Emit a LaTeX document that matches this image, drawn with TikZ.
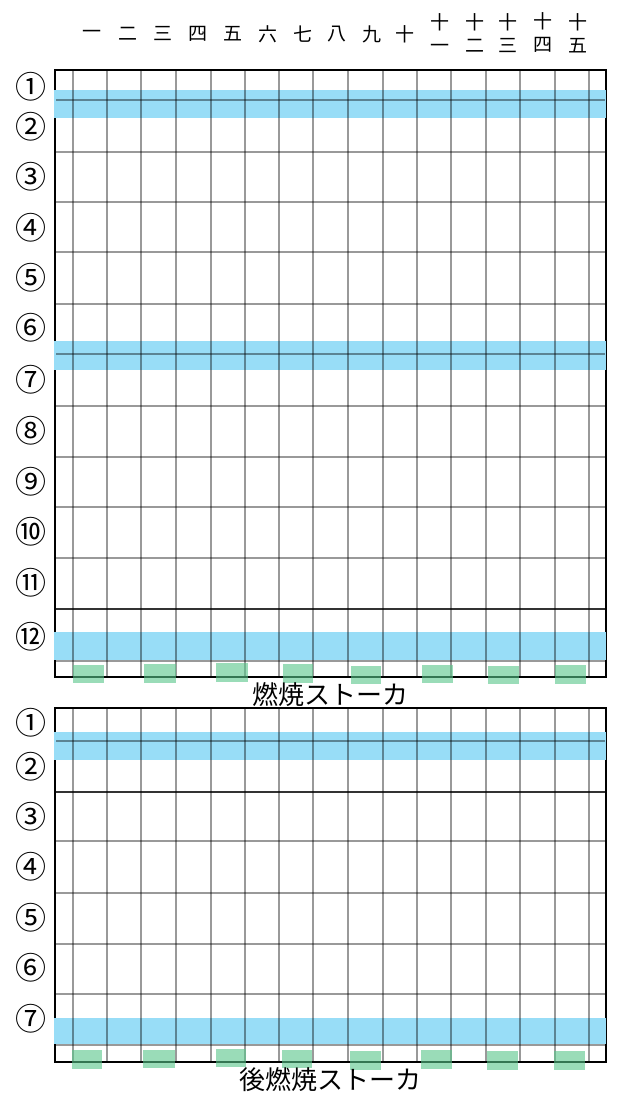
\documentclass[tikz,border=0pt]{standalone}
\usepackage{fontspec}
\newfontfamily\cjk{Noto Sans CJK JP}
\definecolor{bandblue}{RGB}{152,221,247}
\definecolor{grategreen}{RGB}{88,198,138}
\begin{document}
\begin{tikzpicture}[x=1pt,y=-1pt,
  gridline/.style={line width=2pt, black, opacity=0.4},
  heavyline/.style={line width=2pt, black, opacity=0.8},
  frame/.style={line width=2.2pt, black},
  band/.style={fill=bandblue, draw=none},
  grate/.style={fill=grategreen, fill opacity=0.6, draw=none},
  rowlab/.style={font=\cjk\fontsize{31}{31}\selectfont, inner sep=0pt},
  collab/.style={font=\cjk\fontsize{19}{23}\selectfont, inner sep=0pt, align=center},
  caption/.style={font=\cjk\fontsize{26}{26}\selectfont, inner sep=0pt}]
\useasboundingbox[fill=white] (0,0) rectangle (619,1103);

% ---- frames
\draw[frame] (55,70) rectangle (606,677);
\draw[frame] (55,708) rectangle (606,1062);

% ---- blue bands
\fill[band] (54,90) rectangle (606,118);
\fill[band] (54,341) rectangle (606,370);
\fill[band] (54,632) rectangle (606,660);
\fill[band] (54,732) rectangle (606,760);
\fill[band] (54,1018) rectangle (606,1044);

% ---- vertical grid lines
\foreach \x in {73,107,141,176,211,245,279,313,348,383,417,451,486,520,555,589}{
  \draw[gridline] (\x,71) -- (\x,676);
  \draw[gridline] (\x,709) -- (\x,1061);
}
% ---- horizontal grid lines
\foreach \y in {100,152,202,252,304,354,406,457,507,558,661}{
  \draw[gridline] (56,\y) -- (605,\y);
}
\draw[heavyline] (56,609) -- (605,609);
\foreach \y in {741,841,893,944,994,1045}{
  \draw[gridline] (56,\y) -- (605,\y);
}
\draw[heavyline] (56,792) -- (605,792);

% ---- green grate blocks
\foreach \a/\b/\c/\d in {73/104/665/683,144/176/664/683,216/248/663/682,283/313/664/683,351/381/666/684,422/453/665/683,488/519/666/684,555/586/665/684}{
  \fill[grate] (\a,\c) rectangle (\b,\d);
}
\foreach \a/\b/\c/\d in {72/102/1050/1069,143/175/1050/1068,216/246/1049/1067,282/312/1050/1068,350/381/1051/1070,421/452/1050/1069,487/518/1051/1070,554/585/1051/1070}{
  \fill[grate] (\a,\c) rectangle (\b,\d);
}

% ---- column labels
\node[collab] (c1) at (92,34) {一};
\node[collab] (c2) at (128,34) {二};
\node[collab] (c3) at (163,34) {三};
\node[collab] (c4) at (198,34) {四};
\node[collab] (c5) at (233,34) {五};
\node[collab] (c6) at (268,34) {六};
\node[collab] (c7) at (303,34) {七};
\node[collab] (c8) at (337,34) {八};
\node[collab] (c9) at (372,34) {九};
\node[collab] (c10) at (405,34) {十};
\node[collab] (c11) at (440,33) {十\\一};
\node[collab] (c12) at (475,33) {十\\二};
\node[collab] (c13) at (508,33) {十\\三};
\node[collab] (c14) at (543,33) {十\\四};
\node[collab] (c15) at (578,33) {十\\五};

% ---- row labels, upper stoker
\node[rowlab] (a1) at (31,87) {①};
\node[rowlab] (a2) at (31,127) {②};
\node[rowlab] (a3) at (31,177) {③};
\node[rowlab] (a4) at (31,228) {④};
\node[rowlab] (a5) at (31,278) {⑤};
\node[rowlab] (a6) at (31,328) {⑥};
\node[rowlab] (a7) at (31,380) {⑦};
\node[rowlab] (a8) at (31,431) {⑧};
\node[rowlab] (a9) at (31,482) {⑨};
\node[rowlab] (a10) at (31,532) {⑩};
\node[rowlab] (a11) at (31,583) {⑪};
\node[rowlab] (a12) at (31,637) {⑫};

% ---- row labels, lower stoker
\node[rowlab] (b1) at (31,723) {①};
\node[rowlab] (b2) at (31,767) {②};
\node[rowlab] (b3) at (31,817) {③};
\node[rowlab] (b4) at (31,867) {④};
\node[rowlab] (b5) at (31,918) {⑤};
\node[rowlab] (b6) at (31,968) {⑥};
\node[rowlab] (b7) at (31,1019) {⑦};

% ---- captions
\node[caption] (cap1) at (330,695) {燃焼ストーカ};
\node[caption] (cap2) at (330,1080) {後燃焼ストーカ};
\end{tikzpicture}
\end{document}
